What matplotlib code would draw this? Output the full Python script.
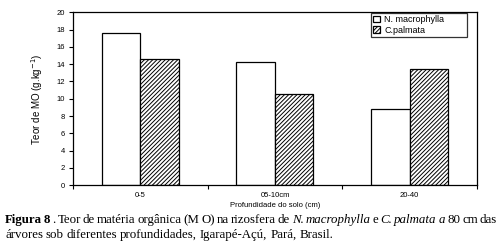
import numpy as np
import matplotlib
matplotlib.use('Agg')
import matplotlib.pyplot as plt

categories = ["0-5", "05-10cm", "20-40"]
macrophylla = [17.6, 14.2, 8.8]
palmata = [14.6, 10.5, 13.5]
series_names = ["N. macrophylla", "C.palmata"]

plt.rcParams['font.family'] = 'Liberation Sans'
plt.rcParams['hatch.linewidth'] = 0.7

fig = plt.figure(figsize=(5.04, 2.45), dpi=100)
ax = fig.add_axes([0.1448, 0.2437, 0.8016, 0.7061])

x = np.arange(len(categories))
w = 0.286
ax.bar(x - w / 2, macrophylla, w, color="white", edgecolor="black", lw=0.9,
       label=series_names[0])
ax.bar(x + w / 2, palmata, w, color="white", edgecolor="black", lw=0.9,
       hatch="////////", label=series_names[1])

ax.set_xlim(-0.5, 2.5)
ax.set_ylim(0, 20)
ax.set_yticks(np.arange(0, 21, 2))
ax.set_xticks(x)
ax.set_xticklabels(categories)
ax.set_xticks([-0.5, 0.5, 1.5, 2.5], minor=True)
ax.tick_params(axis="x", which="major", length=0, labelsize=5.5, pad=5)
ax.tick_params(axis="x", which="minor", length=3, width=0.8, direction="out")
ax.tick_params(axis="y", length=3, width=0.8, direction="out", labelsize=5.5, pad=3)
for s in ax.spines.values():
    s.set_linewidth(0.9)

ax.set_ylabel("Teor de MO (g.kg$^{-1}$)", fontsize=7, labelpad=8)
ax.set_xlabel("Profundidade do solo (cm)", fontsize=5.5, labelpad=2)

leg = ax.legend(loc="upper left", bbox_to_anchor=(0.7376, 0.0, 0.2376, 0.995),
                mode="expand", borderaxespad=0,
                fontsize=6.5, frameon=True, fancybox=False, handlelength=0.8,
                handleheight=0.7, handletextpad=0.4, borderpad=0.25,
                labelspacing=0.15)
leg.get_frame().set_edgecolor("black")
leg.get_frame().set_linewidth(0.9)

# caption with mixed styles, justified word by word
cap_font = "Liberation Serif"
cap_size = 9.3
line1 = [("Figura 8", "bold", "normal"),
         (". Teor de matéria orgânica (M O) na rizosfera de", "normal", "normal"),
         ("N. macrophylla", "normal", "italic"),
         ("e", "normal", "normal"),
         ("C. palmata a", "normal", "italic"),
         ("80 cm das", "normal", "normal")]
line2 = [("árvores sob diferentes profundidades, Igarapé-Açú, Pará, Brasil.", "normal", "normal")]

renderer = fig.canvas.get_renderer()
for parts, ypix, x_end in [(line1, 220, 497), (line2, 235, 333)]:
    words = []
    for txt, weight, style in parts:
        for wd in txt.split(" "):
            words.append((wd, weight, style))
    texts = []
    total = 0
    for wd, weight, style in words:
        t = fig.text(0, 1 - ypix / 245, wd, fontsize=cap_size,
                     family=cap_font, weight=weight, style=style, va="center",
                     ha="left")
        total += t.get_window_extent(renderer).width
        texts.append(t)
    gap = (x_end - 5 - total) / (len(texts) - 1)
    xpix = 5
    for t in texts:
        t.set_x(xpix / 504)
        xpix += t.get_window_extent(renderer).width + gap

fig.savefig("out.png", dpi=100)
